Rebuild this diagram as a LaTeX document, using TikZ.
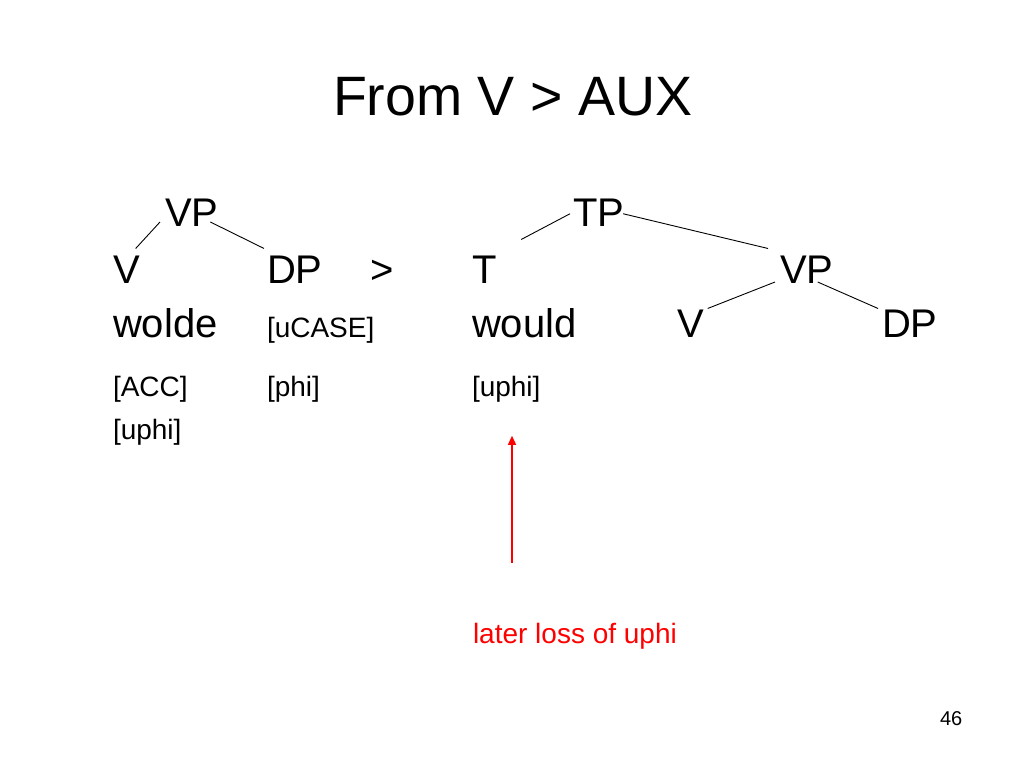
\documentclass[tikz,border=0pt]{standalone}
\usepackage{fontspec}
\setmainfont{Liberation Sans}
\usetikzlibrary{arrows.meta}
\begin{document}
\begin{tikzpicture}[x=1pt,y=-1pt,
  txt/.style={anchor=base west,inner sep=0pt,outer sep=0pt},
  big/.style={txt,font=\fontsize{40}{48}\selectfont},
  small/.style={txt,font=\fontsize{28}{34}\selectfont},
  branch/.style={draw=black,line width=0.9pt},
  redarrow/.style={draw=red,line width=1.4pt,-{Triangle[width=8pt,length=9pt]}}]
\fill[white] (0,0) rectangle (1024,768);
\useasboundingbox (0,0) rectangle (1024,768);
% title
\node[txt,font=\fontsize{55.5}{66}\selectfont] (title) at (333,115) {From V > AUX};
% left tree
\node[big] (vpL) at (165,226) {VP};
\node[big] (vL) at (113,283) {V};
\node[big] (dpL) at (267,283) {DP};
\node[big] (gt) at (370,283) {>};
\node[big] (wolde) at (113,337) {wolde};
\node[small] (ucase) at (267,337) {[uCASE]};
\node[small] (acc) at (113,396) {[ACC]};
\node[small] (phi) at (267,396) {[phi]};
\node[small] (uphiL) at (113,439) {[uphi]};
\draw[branch] ([shift={(-5,-4)}]vpL.south west) -- ([shift={(-4,-7)}]vL.north east);
\draw[branch] ([shift={(-8,-4)}]vpL.south east) -- ([shift={(-3,-7)}]dpL.north west);
% right tree
\node[big] (tp) at (573,226) {TP};
\node[big] (t) at (472,283) {T};
\node[big] (vpR) at (780,283) {VP};
\node[big] (would) at (472,337) {would};
\node[big] (vR) at (677,337) {V};
\node[big] (dpR) at (882,337) {DP};
\node[small] (uphiR) at (472,396) {[uphi]};
\draw[branch] ([shift={(-3,1.5)}]tp.west) -- ([shift={(37,-16)}]t.north);
\draw[branch] ([shift={(-1,1.5)}]tp.east) -- ([shift={(-12,-7)}]vpR.north west);
\draw[branch] ([shift={(-5,-1)}]vpR.south west) -- ([shift={(4,-1)}]vR.north east);
\draw[branch] ([shift={(11,-1)}]vpR.south) -- ([shift={(-4,-1)}]dpR.north west);
% red note
\node[small,text=red] (lab) at (473,643) {later loss of uphi};
\draw[redarrow] ([shift={(39,-60)}]lab.north west) -- ([shift={(40,34)}]uphiR.south west);
% page number
\node[txt,font=\fontsize{20}{24}\selectfont] (pg) at (940,725) {46};
\end{tikzpicture}
\end{document}
